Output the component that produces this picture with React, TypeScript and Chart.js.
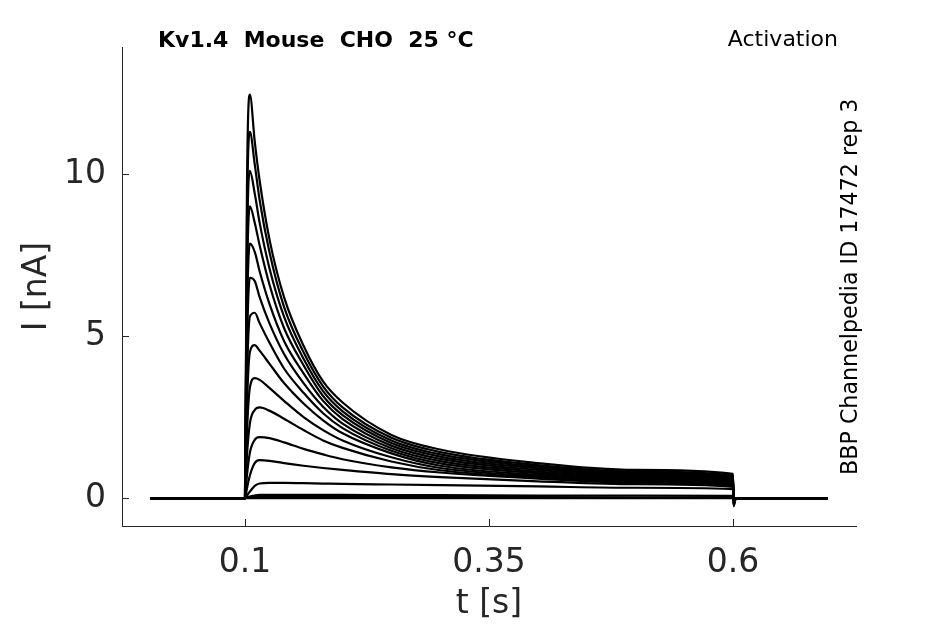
import { useEffect, useRef } from "react";
import { Chart, ChartConfiguration, Plugin } from "chart.js/auto";

// sample times [s], shared by every trace
const times = [0.003, 0.1, 0.102, 0.105, 0.11, 0.115, 0.125, 0.14, 0.16, 0.18, 0.2, 0.25, 0.3, 0.4, 0.5, 0.6, 0.6005, 0.603, 0.697];

// current [nA] for each voltage step
const trace01 = [0, 0, 9.5, 12.45, 11.0, 9.8, 8.0, 6.2, 4.7, 3.6, 2.95, 1.95, 1.5, 1.08, 0.87, 0.75, -0.25, 0, 0];
const trace02 = [0, 0, 8.5, 11.3, 10.3, 9.2, 7.6, 5.9, 4.5, 3.45, 2.8, 1.86, 1.42, 1.02, 0.82, 0.7, -0.22, 0, 0];
const trace03 = [0, 0, 7.5, 10.1, 9.4, 8.5, 7.1, 5.6, 4.3, 3.3, 2.68, 1.78, 1.35, 0.97, 0.78, 0.66, -0.2, 0, 0];
const trace04 = [0, 0, 6.5, 9.0, 8.5, 7.8, 6.6, 5.25, 4.1, 3.15, 2.56, 1.7, 1.28, 0.92, 0.74, 0.62, -0.18, 0, 0];
const trace05 = [0, 0, 5.5, 7.85, 7.6, 7.0, 6.0, 4.85, 3.85, 3.0, 2.44, 1.62, 1.21, 0.87, 0.7, 0.58, -0.16, 0, 0];
const trace06 = [0, 0, 4.6, 6.8, 6.7, 6.2, 5.4, 4.45, 3.55, 2.82, 2.3, 1.54, 1.14, 0.82, 0.66, 0.54, -0.14, 0, 0];
const trace07 = [0, 0, 3.6, 5.6, 5.72, 5.4, 4.8, 4.0, 3.25, 2.62, 2.16, 1.46, 1.07, 0.77, 0.62, 0.5, -0.12, 0, 0];
const trace08 = [0, 0, 2.8, 4.5, 4.72, 4.55, 4.15, 3.55, 2.92, 2.4, 2.0, 1.38, 1.0, 0.72, 0.58, 0.47, -0.1, 0, 0];
const trace09 = [0, 0, 2.0, 3.4, 3.7, 3.65, 3.4, 3.0, 2.5, 2.1, 1.78, 1.26, 0.93, 0.68, 0.55, 0.44, -0.08, 0, 0];
const trace10 = [0, 0, 1.3, 2.3, 2.72, 2.8, 2.7, 2.45, 2.1, 1.78, 1.55, 1.13, 0.86, 0.64, 0.52, 0.41, -0.06, 0, 0];
const trace11 = [0, 0, 0.7, 1.4, 1.8, 1.88, 1.85, 1.72, 1.52, 1.35, 1.2, 0.95, 0.79, 0.6, 0.48, 0.38, -0.04, 0, 0];
const trace12 = [0, 0, 0.3, 0.7, 1.08, 1.17, 1.15, 1.08, 1.0, 0.93, 0.87, 0.74, 0.65, 0.52, 0.43, 0.35, -0.03, 0, 0];
const trace13 = [0, 0, 0.08, 0.2, 0.38, 0.45, 0.47, 0.47, 0.46, 0.45, 0.44, 0.42, 0.4, 0.36, 0.32, 0.28, 0, 0, 0];
const trace14 = [0, 0, 0.02, 0.05, 0.08, 0.1, 0.1, 0.1, 0.1, 0.1, 0.1, 0.09, 0.09, 0.08, 0.08, 0.07, 0, 0, 0];
const trace15 = [0, 0, 0.01, 0.02, 0.03, 0.03, 0.03, 0.03, 0.03, 0.03, 0.03, 0.03, 0.03, 0.03, 0.02, 0.02, 0, 0, 0];
const trace16 = [0, 0, 0, 0, 0, 0, 0, 0, 0, 0, 0, 0, 0, 0, 0, 0, 0, 0, 0];

const traces = [trace01, trace02, trace03, trace04, trace05, trace06, trace07, trace08,
  trace09, trace10, trace11, trace12, trace13, trace14, trace15, trace16];

const xTicks = [0.1, 0.35, 0.6];
const yTicks = [0, 5, 10];

const titleText = "Kv1.4  Mouse  CHO  25 °C";
const protocolText = "Activation";
const sourceText = "BBP Channelpedia ID 17472 rep 3";

const AXIS = "#262626";
const FONT = "DejaVu Sans";

// matlab style ticks pointing into the plot
const innerTicks: Plugin<"line"> = {
  id: "innerTicks",
  afterDraw(chart) {
    const { ctx, chartArea, scales } = chart;
    ctx.save();
    ctx.strokeStyle = AXIS;
    ctx.lineWidth = 1;
    ctx.beginPath();
    for (const v of xTicks) {
      const px = Math.round(scales.x.getPixelForValue(v)) + 0.5;
      ctx.moveTo(px, chartArea.bottom);
      ctx.lineTo(px, chartArea.bottom - 7);
    }
    for (const v of yTicks) {
      const py = Math.round(scales.y.getPixelForValue(v)) + 0.5;
      ctx.moveTo(chartArea.left, py);
      ctx.lineTo(chartArea.left + 7, py);
    }
    ctx.stroke();
    ctx.restore();
  },
};

const labels: Plugin<"line"> = {
  id: "labels",
  afterDraw(chart) {
    const { ctx, chartArea } = chart;
    ctx.save();
    ctx.fillStyle = "#000";
    ctx.textBaseline = "alphabetic";
    ctx.font = `bold 22px "${FONT}"`;
    ctx.textAlign = "left";
    ctx.fillText(titleText, chartArea.left + 36, chartArea.top);
    ctx.font = `22px "${FONT}"`;
    ctx.textAlign = "right";
    ctx.fillText(protocolText, chartArea.right - 18, chartArea.top - 1);
    ctx.translate(chartArea.right + 1, chartArea.bottom - 51);
    ctx.rotate(-Math.PI / 2);
    ctx.textAlign = "left";
    ctx.font = `22.2px "${FONT}"`;
    ctx.fillText(sourceText, 0, 0);
    ctx.restore();
  },
};

export default function App() {
  const chartRef = useRef<HTMLCanvasElement | null>(null);
  const chartInstanceRef = useRef<Chart<"line"> | null>(null);

  useEffect(() => {
    document.body.style.margin = "0";
    const canvas = chartRef.current;
    if (!canvas) return;
    const ctx = canvas.getContext("2d");
    if (!ctx) return;

    if (chartInstanceRef.current) {
      chartInstanceRef.current.destroy();
    }

    Chart.defaults.font.family = FONT;

    const config: ChartConfiguration<"line"> = {
      type: "line",
      data: {
        datasets: traces.map((trace, i) => ({
          label: "trace " + (i + 1),
          data: times.map((t, j) => ({ x: t, y: trace[j] })),
          borderColor: "#000",
          backgroundColor: "transparent",
          borderWidth: 2.2,
          pointRadius: 0,
          fill: false,
          cubicInterpolationMode: "monotone" as const,
        })),
      },
      options: {
        responsive: false,
        animation: false,
        layout: { padding: { top: 47, right: 89, left: 0, bottom: 0 } },
        scales: {
          x: {
            type: "linear",
            min: -0.026,
            max: 0.726,
            afterBuildTicks: (s) => {
              s.ticks = xTicks.map((v) => ({ value: v }));
            },
            afterFit: (s) => {
              s.height = 98;
            },
            ticks: {
              font: { size: 33 },
              color: AXIS,
              padding: 18,
              maxRotation: 0,
              callback: (v) => String(v),
            },
            grid: { drawOnChartArea: false, drawTicks: false },
            border: { display: true, color: AXIS, width: 1 },
            title: {
              display: true,
              text: "t [s]",
              font: { size: 33 },
              color: AXIS,
              padding: { top: 0, bottom: 0 },
            },
          },
          y: {
            type: "linear",
            min: -0.86,
            max: 13.92,
            afterBuildTicks: (s) => {
              s.ticks = yTicks.map((v) => ({ value: v }));
            },
            afterFit: (s) => {
              s.width = 122;
            },
            ticks: {
              font: { size: 33 },
              color: AXIS,
              padding: 16,
              callback: (v) => String(v),
            },
            grid: { drawOnChartArea: false, drawTicks: false },
            border: { display: true, color: AXIS, width: 1 },
            title: {
              display: true,
              text: "I [nA]",
              font: { size: 33 },
              color: AXIS,
              padding: { top: 18, bottom: 0 },
            },
          },
        },
        plugins: {
          legend: { display: false },
          tooltip: { enabled: false },
        },
      },
      plugins: [innerTicks, labels],
    };

    chartInstanceRef.current = new Chart(ctx, config);

    return () => {
      if (chartInstanceRef.current) {
        chartInstanceRef.current.destroy();
        chartInstanceRef.current = null;
      }
    };
  }, []);

  return (
    <div style={{ width: 945, height: 624, background: "#fff" }}>
      <canvas ref={chartRef} width={945} height={624} />
    </div>
  );
}
